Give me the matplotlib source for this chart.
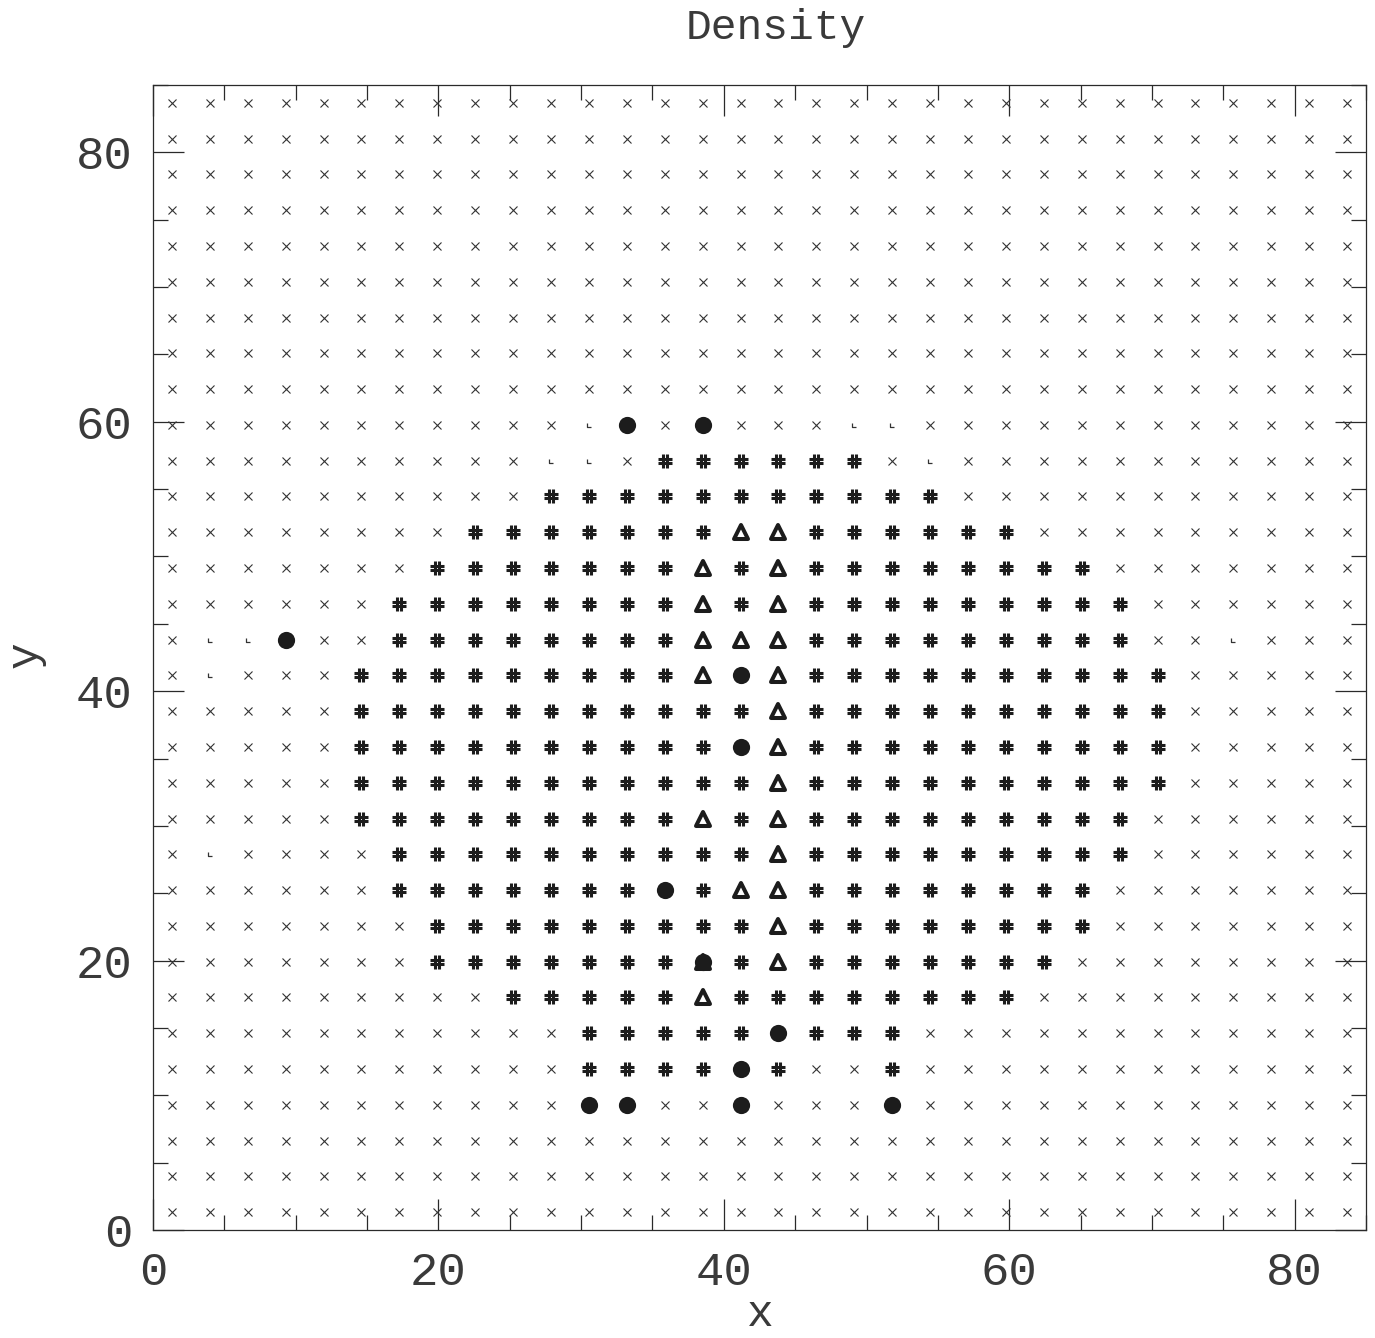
import numpy as np
import matplotlib
matplotlib.use("Agg")
import matplotlib.pyplot as plt
from matplotlib.path import Path
from matplotlib.markers import MarkerStyle

# ---------------- data ----------------
# Grid of density classes, 32 x 32 cells covering 0..85 in x and y.
# Rows listed from top (highest y) to bottom (lowest y).
# x = lowest class (cross), . = tiny mark, # = hash, A = triangle,
# O = filled circle, B = circle drawn over triangle
grid_rows = [
    "xxxxxxxxxxxxxxxxxxxxxxxxxxxxxxxx",
    "xxxxxxxxxxxxxxxxxxxxxxxxxxxxxxxx",
    "xxxxxxxxxxxxxxxxxxxxxxxxxxxxxxxx",
    "xxxxxxxxxxxxxxxxxxxxxxxxxxxxxxxx",
    "xxxxxxxxxxxxxxxxxxxxxxxxxxxxxxxx",
    "xxxxxxxxxxxxxxxxxxxxxxxxxxxxxxxx",
    "xxxxxxxxxxxxxxxxxxxxxxxxxxxxxxxx",
    "xxxxxxxxxxxxxxxxxxxxxxxxxxxxxxxx",
    "xxxxxxxxxxxxxxxxxxxxxxxxxxxxxxxx",
    "xxxxxxxxxxx.OxOxxx..xxxxxxxxxxxx",
    "xxxxxxxxxx..x######x.xxxxxxxxxxx",
    "xxxxxxxxxx###########xxxxxxxxxxx",
    "xxxxxxxx#######AA######xxxxxxxxx",
    "xxxxxxx#######A#A########xxxxxxx",
    "xxxxxx########A#A#########xxxxxx",
    "x..Oxx########AAA#########xx.xxx",
    "x.xxx#########AOA##########xxxxx",
    "xxxxx###########A##########xxxxx",
    "xxxxx##########OA##########xxxxx",
    "xxxxx###########A##########xxxxx",
    "xxxxx#########A#A#########xxxxxx",
    "x.xxxx##########A#########xxxxxx",
    "xxxxxx#######O#AA########xxxxxxx",
    "xxxxxxx#########A########xxxxxxx",
    "xxxxxxx#######B#A#######xxxxxxxx",
    "xxxxxxxxx#####A########xxxxxxxxx",
    "xxxxxxxxxxx#####O###xxxxxxxxxxxx",
    "xxxxxxxxxxx####O#xx#xxxxxxxxxxxx",
    "xxxxxxxxxxxOOxxOxxxOxxxxxxxxxxxx",
    "xxxxxxxxxxxxxxxxxxxxxxxxxxxxxxxx",
    "xxxxxxxxxxxxxxxxxxxxxxxxxxxxxxxx",
    "xxxxxxxxxxxxxxxxxxxxxxxxxxxxxxxx",
]
x_range = [0.0, 85.0]
y_range = [0.0, 85.0]
x_ticks = [0, 20, 40, 60, 80]
y_ticks = [0, 20, 40, 60, 80]
title = "Density"
x_label = "x"
y_label = "y"

# ---------------- geometry from data ----------------
ny = len(grid_rows)
nx = len(grid_rows[0])
xc = x_range[0] + (np.arange(nx) + 0.5) * (x_range[1] - x_range[0]) / nx
yc = y_range[0] + (np.arange(ny) + 0.5) * (y_range[1] - y_range[0]) / ny
codes = np.array([list(r) for r in grid_rows[::-1]])  # row 0 = bottom
XX, YY = np.meshgrid(xc, yc)

def pts(*chars):
    m = np.isin(codes, chars)
    return XX[m], YY[m]

# ---------------- markers ----------------
hash_verts = [(-0.33, -1), (-0.33, 1), (0.33, -1), (0.33, 1),
              (-1, -0.33), (1, -0.33), (-1, 0.33), (1, 0.33)]
hash_codes = [Path.MOVETO, Path.LINETO] * 4
hash_path = Path(hash_verts, hash_codes)

tiny_path = Path([(-0.5, 0.5), (-0.5, -0.5), (0.5, -0.5)],
                 [Path.MOVETO, Path.LINETO, Path.LINETO])

ink = "#1c1c1c"
axis_col = "#2a2a2a"
txt_col = "#3a3a3a"
font = ["Liberation Mono", "DejaVu Sans Mono"]

# ---------------- figure ----------------
W, H = 1375, 1338
fig = plt.figure(figsize=(W / 100, H / 100), dpi=100)
ax = fig.add_axes([153 / W, 1 - 1230 / H, (1366 - 153) / W, (1230 - 85) / H])

fx, fy = pts("x")
ax.plot(fx, fy, ls="none", marker="x", ms=5.2, mew=0.8, color="#333333", zorder=2)
fx, fy = pts(".")
ax.plot(fx, fy, ls="none", marker=tiny_path, ms=3.2, mew=0.9,
        mfc="none", mec="#333333", zorder=2)
fx, fy = pts("#")
ax.plot(fx, fy, ls="none", marker=hash_path, ms=9.8, mew=2.2,
        mfc="none", mec=ink, zorder=3)
fx, fy = pts("A", "B")
tri = MarkerStyle("^", fillstyle="none", joinstyle="round")
ax.plot(fx, fy, ls="none", marker=tri, ms=9.6, mew=2.9,
        mec=ink, zorder=3)
fx, fy = pts("O", "B")
ax.plot(fx, fy, ls="none", marker="o", ms=12.4, mew=0,
        color=ink, zorder=4)

ax.set_xlim(*x_range)
ax.set_ylim(*y_range)
ax.set_xticks(x_ticks)
ax.set_yticks(y_ticks)
ax.set_xticks(np.arange(0, 86, 5), minor=True)
ax.set_yticks(np.arange(0, 86, 5), minor=True)
ax.tick_params(which="both", direction="in", top=True, right=True,
               color=axis_col, width=0.9)
ax.tick_params(which="major", length=22)
ax.tick_params(which="minor", length=10.5)
ax.tick_params(axis="x", which="major", pad=15)
ax.tick_params(axis="y", which="major", pad=15)
for lab in ax.get_xticklabels() + ax.get_yticklabels():
    lab.set_fontfamily(font)
    lab.set_fontsize(34)
    lab.set_color(txt_col)
for s in ax.spines.values():
    s.set_color(axis_col)
    s.set_linewidth(0.9)

fig.text(776 / W, 1 - 28 / H, title, ha="center", va="center",
         fontsize=31, family=font, color=txt_col)
fig.text(760 / W, 1 - 1314 / H, x_label, ha="center", va="center",
         fontsize=32, family=font, color=txt_col)
fig.text(25 / W, 1 - 655 / H, y_label, ha="center", va="center",
         rotation=90, fontsize=32, family=font, color=txt_col)

fig.savefig("out.png", dpi=100)
